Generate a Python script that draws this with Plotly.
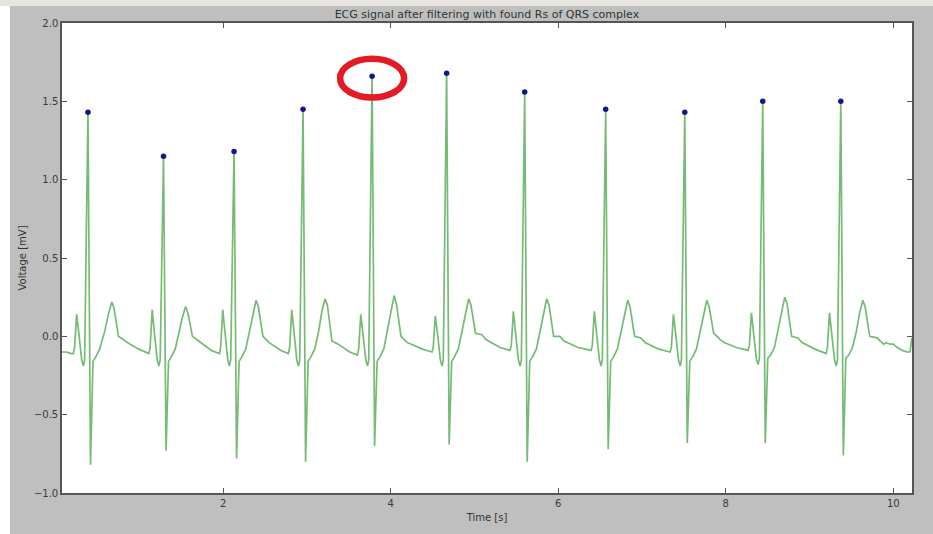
import plotly.graph_objects as go

# ---- data ----
ecg_time = [
    0.076, 0.130, 0.185,
    # beat 1
    0.211, 0.226, 0.251, 0.281, 0.311, 0.331, 0.346, 0.386, 0.416, 0.446, 0.481, 0.526,
    0.585, 0.630, 0.670, 0.697, 0.725, 0.750, 0.806, 0.856, 0.985,
    # beat 2
    1.113, 1.128, 1.153, 1.183, 1.213, 1.233, 1.248, 1.288, 1.318, 1.348, 1.383, 1.428,
    1.473, 1.513, 1.551, 1.578, 1.608, 1.633, 1.708, 1.758, 1.860,
    # beat 3
    1.955, 1.970, 1.995, 2.025, 2.055, 2.075, 2.090, 2.130, 2.160, 2.190, 2.225, 2.270,
    2.315, 2.355, 2.393, 2.420, 2.450, 2.475, 2.550, 2.600, 2.690,
    # beat 4
    2.779, 2.794, 2.819, 2.849, 2.879, 2.899, 2.914, 2.954, 2.984, 3.014, 3.049, 3.094,
    3.139, 3.179, 3.217, 3.244, 3.274, 3.299, 3.374, 3.424, 3.510,
    # beat 5
    3.603, 3.618, 3.643, 3.673, 3.703, 3.723, 3.738, 3.778, 3.808, 3.838, 3.873, 3.918,
    3.963, 4.003, 4.041, 4.068, 4.098, 4.123, 4.198, 4.248, 4.370,
    # beat 6
    4.493, 4.508, 4.533, 4.563, 4.593, 4.613, 4.628, 4.668, 4.698, 4.728, 4.763, 4.808,
    4.853, 4.893, 4.931, 4.958, 4.988, 5.013, 5.088, 5.138, 5.300,
    # beat 7
    5.425, 5.440, 5.465, 5.495, 5.525, 5.545, 5.560, 5.600, 5.630, 5.660, 5.695, 5.740,
    5.785, 5.825, 5.863, 5.890, 5.920, 5.945, 6.020, 6.070, 6.230,
    # beat 8
    6.392, 6.407, 6.432, 6.462, 6.492, 6.512, 6.527, 6.567, 6.597, 6.627, 6.662, 6.707,
    6.752, 6.792, 6.830, 6.857, 6.887, 6.912, 6.987, 7.037, 7.190,
    # beat 9
    7.336, 7.351, 7.376, 7.406, 7.436, 7.456, 7.471, 7.511, 7.541, 7.571, 7.606, 7.651,
    7.696, 7.736, 7.774, 7.801, 7.831, 7.856, 7.931, 7.981, 8.120,
    # beat 10
    8.267, 8.282, 8.307, 8.337, 8.367, 8.387, 8.402, 8.442, 8.472, 8.502, 8.537, 8.582,
    8.627, 8.667, 8.705, 8.732, 8.762, 8.787, 8.862, 8.912, 9.060,
    # beat 11
    9.199, 9.214, 9.239, 9.269, 9.299, 9.319, 9.334, 9.374, 9.404, 9.434, 9.469, 9.514,
    9.559, 9.599, 9.637, 9.664, 9.694, 9.719, 9.806, 9.885, 9.917, 9.965, 10.000, 10.045,
    10.108, 10.164, 10.200, 10.222,
]

ecg_mv = [
    -0.10, -0.10, -0.11,
    # beat 1
    -0.11, -0.07, 0.14, 0.00, -0.15, -0.19, -0.15, 1.43, -0.82, -0.16, -0.13, -0.08,
    0.03, 0.14, 0.22, 0.18, 0.08, 0.00, -0.02, -0.04, -0.08,
    # beat 2
    -0.11, -0.07, 0.17, 0.00, -0.15, -0.19, -0.15, 1.15, -0.73, -0.16, -0.13, -0.08,
    0.03, 0.12, 0.19, 0.15, 0.07, 0.00, -0.03, -0.05, -0.09,
    # beat 3
    -0.11, -0.07, 0.17, 0.00, -0.15, -0.19, -0.15, 1.18, -0.78, -0.16, -0.13, -0.08,
    0.03, 0.15, 0.23, 0.19, 0.08, 0.00, -0.04, -0.06, -0.09,
    # beat 4
    -0.11, -0.07, 0.17, 0.00, -0.15, -0.19, -0.15, 1.45, -0.80, -0.16, -0.13, -0.08,
    0.03, 0.16, 0.24, 0.20, 0.06, -0.03, -0.05, -0.07, -0.10,
    # beat 5
    -0.12, -0.08, 0.14, 0.00, -0.15, -0.19, -0.15, 1.66, -0.70, -0.16, -0.13, -0.08,
    0.04, 0.17, 0.26, 0.21, 0.08, 0.00, -0.04, -0.05, -0.08,
    # beat 6
    -0.10, -0.07, 0.13, 0.00, -0.15, -0.19, -0.15, 1.68, -0.69, -0.16, -0.13, -0.08,
    0.04, 0.16, 0.24, 0.20, 0.09, 0.02, 0.01, -0.02, -0.07,
    # beat 7
    -0.09, -0.06, 0.16, 0.00, -0.15, -0.19, -0.15, 1.56, -0.80, -0.16, -0.13, -0.08,
    0.04, 0.16, 0.24, 0.20, 0.08, 0.00, 0.00, -0.03, -0.07,
    # beat 8
    -0.09, -0.06, 0.16, 0.00, -0.15, -0.19, -0.15, 1.45, -0.72, -0.16, -0.13, -0.08,
    0.03, 0.15, 0.23, 0.19, 0.08, 0.00, -0.01, -0.04, -0.08,
    # beat 9
    -0.10, -0.07, 0.14, 0.00, -0.15, -0.19, -0.15, 1.43, -0.68, -0.16, -0.13, -0.08,
    0.03, 0.15, 0.23, 0.19, 0.09, 0.02, -0.02, -0.04, -0.07,
    # beat 10
    -0.09, -0.06, 0.15, 0.00, -0.15, -0.18, -0.14, 1.50, -0.68, -0.14, -0.12, -0.07,
    0.04, 0.16, 0.25, 0.21, 0.08, 0.00, -0.01, -0.04, -0.08,
    # beat 11
    -0.11, -0.07, 0.15, 0.00, -0.15, -0.19, -0.15, 1.50, -0.76, -0.14, -0.12, -0.07,
    0.03, 0.15, 0.23, 0.19, 0.08, 0.00, -0.01, -0.05, -0.04, -0.05, -0.05, -0.07,
    -0.09, -0.10, -0.10, -0.01,
]

r_peak_time = [0.386, 1.288, 2.130, 2.954, 3.778, 4.668, 5.600, 6.567, 7.511, 8.442, 9.374]
r_peak_mv = [1.43, 1.15, 1.18, 1.45, 1.66, 1.68, 1.56, 1.45, 1.43, 1.50, 1.50]

x_ticks = [2, 4, 6, 8, 10]
y_ticks = [-1.0, -0.5, 0.0, 0.5, 1.0, 1.5, 2.0]

highlight_index = 4  # the circled R peak

# ---- figure ----
fig = go.Figure()
fig.add_trace(go.Scatter(
    x=ecg_time, y=ecg_mv, mode="lines",
    line=dict(color="rgba(30,145,30,0.62)", width=1.7),
    hoverinfo="skip", showlegend=False,
))
fig.add_trace(go.Scatter(
    x=r_peak_time, y=r_peak_mv, mode="markers",
    marker=dict(color="#15158f", size=5.5),
    hoverinfo="skip", showlegend=False,
))

hx = r_peak_time[highlight_index]
hy = r_peak_mv[highlight_index]
fig.add_shape(type="circle", xref="x", yref="y",
              x0=hx - 0.382, x1=hx + 0.382, y0=hy - 0.136, y1=hy + 0.112,
              line=dict(color="#e31b23", width=6.5))

# screenshot framing: white strips on the left and top edges
fig.add_shape(type="rect", xref="paper", yref="paper",
              x0=-0.08, x1=-0.0612, y0=-0.09, y1=1.06,
              fillcolor="white", line=dict(width=0), layer="below")
fig.add_shape(type="rect", xref="paper", yref="paper",
              x0=-0.08, x1=1.03, y0=1.0360, y1=1.06,
              fillcolor="#e8e4e0", line=dict(width=0), layer="below")

axis_common = dict(
    showline=True, linecolor="#555555", linewidth=1.5, mirror="ticks",
    ticks="inside", ticklen=5, tickcolor="#555555", tickwidth=1,
    showgrid=False, zeroline=False,
    tickfont=dict(family="DejaVu Sans", size=10, color="#3a3a3a"),
)

fig.update_layout(
    width=933, height=534,
    margin=dict(l=62, r=21, t=23, b=39),
    paper_bgcolor="#bfbfbf", plot_bgcolor="white",
    title=dict(text="ECG signal after filtering with found Rs of QRS complex",
               x=0.5219, xanchor="center", y=0.974, yanchor="middle",
               font=dict(family="DejaVu Sans", size=11, color="#333333")),
    xaxis=dict(range=[0.076, 10.224], tickvals=x_ticks,
               title=dict(text="Time [s]", standoff=6,
                          font=dict(family="DejaVu Sans", size=10, color="#333333")),
               **axis_common),
    yaxis=dict(range=[-1.0, 2.0], tickvals=y_ticks, tickformat=".1f",
               title=dict(text="Voltage [mV]", standoff=5,
                          font=dict(family="DejaVu Sans", size=10, color="#333333")),
               **axis_common),
)

fig.write_html("out.html", config={"displayModeBar": False},
               post_script="document.body.style.margin='0px';")
